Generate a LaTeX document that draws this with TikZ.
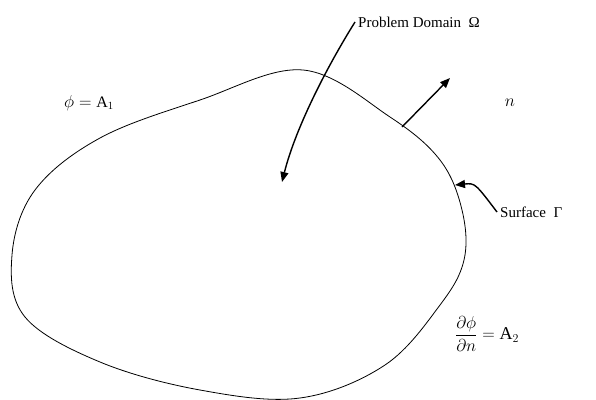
\documentclass[tikz,border=0pt]{standalone}
\usepackage{amsmath,amssymb}
\usepackage{fontspec}
\setmainfont{Liberation Serif}
\usetikzlibrary{arrows.meta, positioning}

\begin{document}
\begin{tikzpicture}[
    x=1pt, y=-1pt,
    boundary/.style={line width=0.8pt, black},
    arrowstyle/.style={-{Triangle[length=10pt, width=8pt]}, line width=1.4pt, black},
    txt/.style={font=\fontsize{15}{18}\selectfont, inner sep=3pt}
]
\useasboundingbox (0,0) rectangle (596,399);

% surface of the problem domain
\draw[boundary] plot[smooth cycle, tension=0.6] coordinates {
    (303,70) (390,117) (440,160) (462,210) (464,260) (440,305) (385,365)
    (300,398) (200,390) (100,362) (25,317) (12,255) (35,190) (100,138) (200,100)};

\node[txt, anchor=west] (domain) at (355,22) {Problem Domain\ \ Ω};
\node[txt, font=\fontsize{16}{19}\selectfont] (bc1) at (89,103) {$\phi = \mathrm{A}_1$};
\node[txt, font=\fontsize{17}{20}\selectfont] (normal) at (510,103) {$n$};
\node[txt, anchor=west] (surface) at (497,212) {Surface\ \ Γ};
\node[txt, font=\fontsize{18}{22}\selectfont] (bc2) at (487,334) {$\dfrac{\partial\phi}{\partial n} = \mathrm{A}_2$};

\coordinate (nbase) at (402,127);
\coordinate (ntip) at (450,78);
\coordinate (inside) at (282,182);
\coordinate (onsurf) at (455,185);

\draw[arrowstyle] (nbase) -- (ntip);
\draw[arrowstyle] (domain.west) .. controls (325,70) and (295,130) .. (inside);
\draw[arrowstyle] (surface.west) .. controls (475,183) .. (onsurf);
\end{tikzpicture}
\end{document}
